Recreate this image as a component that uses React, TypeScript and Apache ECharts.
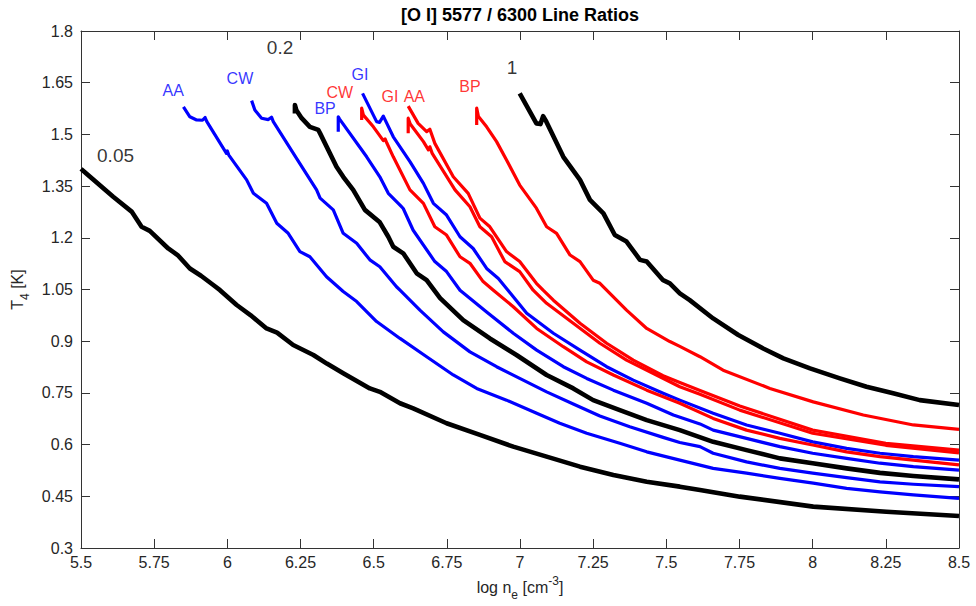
import React, { useEffect, useRef } from "react";
import * as echarts from "echarts";

// ---- data (log ne, T4) ----
const curve005 = [[5.5,1.40],[5.52,1.385],[5.61,1.319],[5.673,1.276],[5.707,1.232],[5.735,1.22],[5.798,1.169],[5.83,1.15],[5.872,1.111],[5.91,1.09],[5.952,1.063],[5.975,1.048],[6.032,1.005],[6.08,0.975],[6.134,0.937],[6.17,0.925],[6.225,0.889],[6.294,0.86],[6.34,0.835],[6.396,0.807],[6.487,0.763],[6.521,0.753],[6.59,0.72],[6.635,0.705],[6.749,0.662],[6.863,0.628],[6.977,0.594],[7.091,0.565],[7.205,0.536],[7.319,0.512],[7.433,0.492],[7.546,0.478],[7.615,0.468],[7.751,0.449],[8.002,0.42],[8.252,0.405],[8.5,0.393]];
const curve02 = [[6.231,1.561],[6.231,1.585],[6.236,1.57],[6.254,1.547],[6.282,1.522],[6.311,1.513],[6.317,1.503],[6.373,1.406],[6.396,1.377],[6.43,1.339],[6.47,1.281],[6.521,1.245],[6.55,1.203],[6.567,1.174],[6.601,1.155],[6.647,1.097],[6.681,1.077],[6.727,1.025],[6.806,0.961],[6.897,0.908],[6.988,0.86],[7.091,0.802],[7.182,0.763],[7.25,0.729],[7.341,0.70],[7.433,0.671],[7.546,0.642],[7.66,0.608],[7.774,0.584],[7.888,0.56],[8.0,0.546],[8.116,0.531],[8.23,0.518],[8.344,0.509],[8.5,0.499]];
const curve1 = [[6.999,1.619],[7.056,1.532],[7.07,1.53],[7.079,1.553],[7.09,1.537],[7.148,1.435],[7.205,1.368],[7.239,1.31],[7.285,1.271],[7.324,1.208],[7.364,1.189],[7.41,1.136],[7.433,1.131],[7.489,1.077],[7.512,1.068],[7.546,1.039],[7.58,1.019],[7.66,0.966],[7.746,0.918],[7.831,0.879],[7.9,0.85],[7.991,0.821],[8.093,0.792],[8.184,0.768],[8.275,0.749],[8.366,0.729],[8.5,0.715]];

const blueAA = [[5.85,1.58],[5.872,1.551],[5.895,1.542],[5.915,1.541],[5.924,1.549],[5.93,1.537],[5.997,1.445],[6.0,1.452],[6.005,1.44],[6.066,1.368],[6.089,1.329],[6.134,1.30],[6.169,1.242],[6.208,1.213],[6.248,1.16],[6.282,1.145],[6.339,1.087],[6.396,1.044],[6.442,1.015],[6.51,0.957],[6.59,0.908],[6.681,0.855],[6.772,0.802],[6.852,0.763],[6.954,0.729],[7.057,0.691],[7.136,0.662],[7.228,0.633],[7.341,0.604],[7.433,0.579],[7.546,0.555],[7.66,0.531],[7.774,0.517],[7.888,0.502],[8.002,0.488],[8.116,0.473],[8.23,0.463],[8.344,0.454],[8.5,0.444]];
const blueCW = [[6.083,1.598],[6.094,1.571],[6.117,1.547],[6.14,1.543],[6.151,1.55],[6.157,1.537],[6.237,1.43],[6.305,1.339],[6.317,1.315],[6.362,1.281],[6.396,1.213],[6.442,1.184],[6.487,1.136],[6.521,1.116],[6.578,1.058],[6.59,1.048],[6.658,0.99],[6.738,0.927],[6.829,0.869],[6.92,0.826],[6.999,0.792],[7.091,0.753],[7.182,0.718],[7.273,0.683],[7.375,0.652],[7.489,0.621],[7.546,0.606],[7.615,0.594],[7.66,0.575],[7.774,0.55],[7.888,0.531],[8.0,0.517],[8.116,0.504],[8.23,0.492],[8.344,0.485],[8.5,0.478]];
const blueBP = [[6.379,1.508],[6.379,1.551],[6.383,1.545],[6.476,1.435],[6.521,1.377],[6.55,1.329],[6.59,1.295],[6.601,1.285],[6.635,1.222],[6.709,1.131],[6.749,1.102],[6.795,1.048],[6.886,0.985],[6.977,0.923],[7.057,0.874],[7.148,0.826],[7.228,0.792],[7.319,0.758],[7.433,0.72],[7.524,0.686],[7.615,0.66],[7.66,0.642],[7.774,0.618],[7.888,0.594],[8.0,0.575],[8.116,0.56],[8.23,0.546],[8.344,0.536],[8.5,0.526]];
const blueGI = [[6.462,1.619],[6.51,1.537],[6.52,1.535],[6.533,1.553],[6.567,1.493],[6.624,1.421],[6.67,1.358],[6.704,1.30],[6.749,1.266],[6.795,1.203],[6.84,1.169],[6.886,1.111],[6.926,1.082],[6.977,1.029],[7.023,0.981],[7.114,0.923],[7.205,0.874],[7.296,0.826],[7.387,0.787],[7.489,0.749],[7.546,0.729],[7.66,0.691],[7.774,0.657],[7.888,0.633],[8.0,0.608],[8.116,0.589],[8.23,0.575],[8.344,0.565],[8.5,0.555]];

const redCW = [[6.459,1.542],[6.459,1.576],[6.465,1.556],[6.499,1.522],[6.533,1.482],[6.539,1.487],[6.545,1.475],[6.567,1.435],[6.624,1.339],[6.67,1.30],[6.709,1.232],[6.749,1.208],[6.795,1.145],[6.829,1.126],[6.874,1.073],[6.909,1.048],[6.977,1.0],[7.057,0.937],[7.148,0.884],[7.228,0.84],[7.319,0.802],[7.433,0.758],[7.546,0.72],[7.66,0.676],[7.774,0.642],[7.888,0.618],[8.0,0.599],[8.116,0.579],[8.23,0.565],[8.344,0.555],[8.5,0.541]];
const redGI = [[6.618,1.503],[6.618,1.547],[6.625,1.53],[6.67,1.479],[6.687,1.455],[6.692,1.464],[6.7,1.445],[6.778,1.339],[6.829,1.29],[6.863,1.232],[6.903,1.203],[6.948,1.131],[6.999,1.102],[7.045,1.048],[7.091,1.01],[7.182,0.952],[7.273,0.894],[7.364,0.845],[7.478,0.797],[7.546,0.768],[7.615,0.746],[7.751,0.70],[8.0,0.633],[8.25,0.598],[8.5,0.576]];
const redAA = [[6.618,1.582],[6.652,1.532],[6.681,1.508],[6.692,1.515],[6.709,1.474],[6.772,1.377],[6.823,1.329],[6.863,1.257],[6.897,1.232],[6.954,1.16],[6.999,1.131],[7.056,1.068],[7.079,1.048],[7.114,1.019],[7.205,0.952],[7.296,0.894],[7.387,0.845],[7.489,0.80],[7.546,0.78],[7.615,0.757],[7.751,0.712],[8.0,0.642],[8.25,0.604],[8.5,0.584]];
const redBP = [[6.852,1.527],[6.852,1.576],[6.858,1.552],[6.886,1.522],[6.92,1.479],[6.954,1.426],[6.999,1.353],[7.056,1.286],[7.091,1.232],[7.125,1.213],[7.171,1.15],[7.205,1.131],[7.25,1.077],[7.273,1.068],[7.33,1.019],[7.364,0.99],[7.433,0.937],[7.512,0.899],[7.546,0.885],[7.615,0.855],[7.694,0.816],[7.854,0.763],[8.002,0.724],[8.173,0.686],[8.344,0.657],[8.5,0.644]];

const labelText = ["0.05", "0.2", "1", "AA", "CW", "BP", "GI", "CW", "GI", "AA", "BP"];
const labelX = [5.618, 6.18, 6.973, 5.815, 6.043, 6.334, 6.453, 6.384, 6.556, 6.639, 6.829];
const labelY = [1.44, 1.753, 1.693, 1.626, 1.663, 1.576, 1.673, 1.623, 1.609, 1.609, 1.638];
const labelKind = ["k", "k", "k", "b", "b", "b", "b", "r", "r", "r", "r"];

const xTicks = { min: 5.5, max: 8.5, interval: 0.25 };
const yTicks = { min: 0.3, max: 1.8, interval: 0.15 };

const FONT = "'Liberation Sans', Arial, Helvetica, sans-serif";
const COLORS: Record<string, string> = { k: "#000000", b: "#0000ff", r: "#ff0000" };
const AXIS = "#333333";
const TXT = "#262626";

export default function App() {
  const ref = useRef<HTMLDivElement>(null);
  useEffect(() => {
    document.body.style.margin = "0";
    if (!ref.current) return;
    const chart = echarts.init(ref.current, undefined, { renderer: "svg" });
    const mkLine = (name: string, data: number[][], color: string, width: number) => ({
      name,
      type: "line",
      data,
      showSymbol: false,
      symbol: "none",
      lineStyle: { color, width, join: "round", cap: "butt" },
      z: 3,
    });
    const axisCommon = {
      type: "value",
      axisLine: { show: true, lineStyle: { color: AXIS, width: 1 } },
      axisTick: { show: true, inside: true, length: 9, lineStyle: { color: AXIS, width: 1 } },
      splitLine: { show: false },
    };
    const option: any = {
      animation: false,
      graphic: [
        {
          type: "text",
          x: 520,
          y: 15,
          style: {
            text: "[O I] 5577 / 6300 Line Ratios",
            font: "bold 18px " + FONT,
            fill: "#000",
            align: "center",
            verticalAlign: "middle",
          },
        },
      ],
      grid: { left: 81, right: 17, top: 31, bottom: 58, containLabel: false },
      xAxis: [
        {
          ...axisCommon,
          ...xTicks,
          position: "bottom",
          axisLabel: { fontFamily: FONT, fontSize: 16, color: TXT, margin: 6 },
          name: "{n|log n}{sub|e}{n| [cm}{sup|-3}{n|]}",
          nameLocation: "middle",
          nameGap: 23,
          nameTextStyle: {
            rich: {
              n: { fontFamily: FONT, fontSize: 16, color: TXT, lineHeight: 26, verticalAlign: "middle" },
              sub: { fontFamily: FONT, fontSize: 12, color: TXT, lineHeight: 26, verticalAlign: "bottom" },
              sup: { fontFamily: FONT, fontSize: 12, color: TXT, lineHeight: 26, verticalAlign: "top" },
            },
          },
        },
        { ...axisCommon, ...xTicks, position: "top", axisLabel: { show: false } },
      ],
      yAxis: [
        {
          ...axisCommon,
          ...yTicks,
          position: "left",
          axisLabel: { fontFamily: FONT, fontSize: 16, color: TXT, margin: 8 },
          name: "{n|T}{sub|4}{n| [K]}",
          nameLocation: "middle",
          nameGap: 49,
          nameRotate: 90,
          nameTextStyle: {
            rich: {
              n: { fontFamily: FONT, fontSize: 16, color: TXT, lineHeight: 26, verticalAlign: "middle" },
              sub: { fontFamily: FONT, fontSize: 12, color: TXT, lineHeight: 26, verticalAlign: "bottom" },
            },
          },
        },
        { ...axisCommon, ...yTicks, position: "right", axisLabel: { show: false } },
      ],
      series: [
        mkLine("0.05", curve005, COLORS.k, 4.6),
        mkLine("0.2", curve02, COLORS.k, 4.6),
        mkLine("1", curve1, COLORS.k, 4.6),
        mkLine("AA blue", blueAA, COLORS.b, 3.2),
        mkLine("CW blue", blueCW, COLORS.b, 3.2),
        mkLine("BP blue", blueBP, COLORS.b, 3.2),
        mkLine("GI blue", blueGI, COLORS.b, 3.2),
        mkLine("CW red", redCW, COLORS.r, 3.2),
        mkLine("GI red", redGI, COLORS.r, 3.2),
        mkLine("AA red", redAA, COLORS.r, 3.2),
        mkLine("BP red", redBP, COLORS.r, 3.2),
        {
          name: "labels",
          type: "scatter",
          symbolSize: 0,
          silent: true,
          z: 5,
          data: labelText.map((t, i) => ({
            name: t,
            value: [labelX[i], labelY[i]],
            label: {
              show: true,
              position: "inside",
              formatter: "{b}",
              color: COLORS[labelKind[i]],
              fontFamily: FONT,
              fontSize: labelKind[i] === "k" ? 19 : 16,
            },
          })),
        },
      ],
    };
    chart.setOption(option);
    return () => chart.dispose();
  }, []);
  return <div ref={ref} style={{ width: 976, height: 606 }} />;
}
